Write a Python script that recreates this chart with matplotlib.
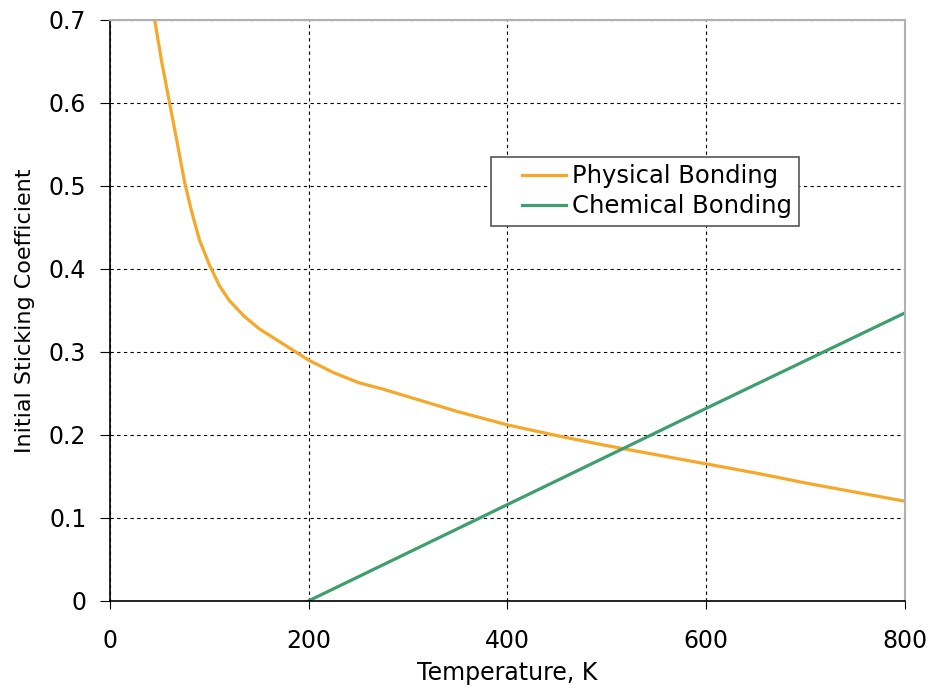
import numpy as np
import matplotlib.pyplot as plt

plt.rcParams['font.family'] = ['DejaVu Sans']

# physical bonding
phys_T = [45, 52, 60, 68, 75, 82, 90, 100, 110, 120, 135, 150, 175, 200, 225, 250, 275, 300, 350, 400, 450, 500, 550, 600, 650, 700, 750, 800]
phys_S = [0.70, 0.65, 0.60, 0.55, 0.505, 0.47, 0.435, 0.405, 0.38, 0.362, 0.343, 0.328, 0.309, 0.29, 0.275, 0.263, 0.255, 0.246, 0.228, 0.212, 0.199, 0.187, 0.176, 0.165, 0.154, 0.142, 0.131, 0.12]

# chemical bonding
chem_T = [200, 400, 600, 800]
chem_S = [0.0, 0.116, 0.232, 0.347]

x_ticks = [0, 200, 400, 600, 800]
y_ticks = [0, 0.1, 0.2, 0.3, 0.4, 0.5, 0.6, 0.7]

fig = plt.figure(figsize=(9.32, 6.89), dpi=100)
ax = fig.add_axes([0.118, 0.128, 0.853, 0.843])

ax.plot(phys_T, phys_S, color='#F5A829', lw=2.3, label='Physical Bonding')
ax.plot(chem_T, chem_S, color='#3E9E6E', lw=2.3, label='Chemical Bonding')

ax.set_xlim(0, 800)
ax.set_ylim(0, 0.7)
ax.set_xticks(x_ticks)
ax.set_yticks(y_ticks)
ax.set_yticklabels(['0', '0.1', '0.2', '0.3', '0.4', '0.5', '0.6', '0.7'])
ax.tick_params(labelsize=17, direction='out')
ax.tick_params(axis='y', length=7, pad=10)
ax.tick_params(axis='x', length=6, pad=14)
ax.grid(True, color='black', linestyle=(0, (3, 3)), linewidth=0.8)

for side in ['top', 'right']:
    ax.spines[side].set_color('#b0b0b0')
    ax.spines[side].set_linewidth(1.5)
for side in ['left', 'bottom']:
    ax.spines[side].set_linewidth(1.2)

ax.set_xlabel('Temperature, K', fontsize=17, labelpad=6)
ax.set_ylabel('Initial Sticking Coefficient', fontsize=16, labelpad=10)

leg = ax.legend(loc='upper left', bbox_to_anchor=(0.479, 0.764), fontsize=17.5,
                fancybox=False, framealpha=1, edgecolor='#555555',
                handlelength=2.8, handletextpad=0.25, borderpad=0.3,
                labelspacing=0.25, borderaxespad=0)
leg.get_frame().set_linewidth(1.2)
# the handles start a bit in from the frame
for line in leg.get_lines():
    xd = np.array(line.get_xdata(), dtype=float)
    xd[0] = xd[0] + 17
    line.set_xdata(xd)

fig.savefig('out.png', dpi=100)
